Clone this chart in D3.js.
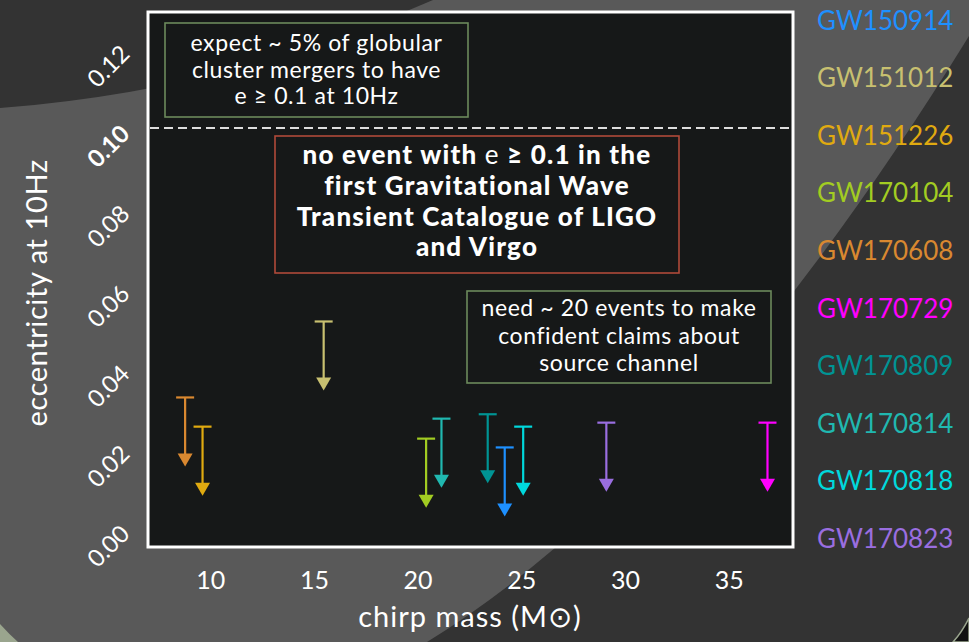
<!DOCTYPE html>
<html>
<head>
<meta charset="utf-8">
<script src="https://cdn.jsdelivr.net/npm/d3@7"></script>
<style>
  html, body { margin: 0; padding: 0; background: #333; }
  svg text { font-family: Lato, "Noto Sans", sans-serif; }
</style>
</head>
<body>
<div id="chart"></div>
<script>
// events (GWTC-1) with chirp mass and 90% upper limit on eccentricity at 10Hz
const events = ["GW150914", "GW151012", "GW151226", "GW170104", "GW170608",
                "GW170729", "GW170809", "GW170814", "GW170818", "GW170823"];
const chirpMass = [24.2, 15.47, 9.63, 20.41, 8.79, 36.87, 23.38, 21.15, 25.09, 29.1];
const eccLimit = [0.0201, 0.0516, 0.0253, 0.0223, 0.0326, 0.0263, 0.0284, 0.0273, 0.0253, 0.0263];
const eventColors = ["#1e90ff", "#c8c070", "#e0aa10", "#a2cc22", "#d98830",
                     "#ff00ff", "#009494", "#20b8b0", "#00d8dc", "#9a6ee0"];

const xTicks = [10, 15, 20, 25, 30, 35];
const yTicks = [0, 0.02, 0.04, 0.06, 0.08, 0.10, 0.12];
const threshold = 0.1;

const W = 969, H = 642;
const svg = d3.select("#chart").append("svg")
    .attr("width", W)
    .attr("height", H);

// ---- slide background ----
svg.append("rect").attr("width", W).attr("height", H).attr("fill", "#333333");

const band = d3.path();
band.moveTo(0, 108);
band.quadraticCurveTo(230, 90, 433, 0);
band.lineTo(W, 0);
band.lineTo(W, 36);
band.quadraticCurveTo(699, 474, 427, H);
band.lineTo(0, H);
band.closePath();
svg.append("path").attr("d", band.toString()).attr("fill", "#595959");

// little corner swooshes
const cornerL = d3.path();
cornerL.moveTo(0, 624);
cornerL.quadraticCurveTo(9, 634, 18, H);
cornerL.lineTo(0, H);
cornerL.closePath();
svg.append("path").attr("d", cornerL.toString()).attr("fill", "#9aa58e");

const cornerR = d3.path();
cornerR.moveTo(W, 618);
cornerR.quadraticCurveTo(962, 632, 953, H);
cornerR.lineTo(W, H);
cornerR.closePath();
svg.append("path").attr("d", cornerR.toString())
    .attr("fill", "#111").attr("stroke", "#9aa58e").attr("stroke-width", 1.5);

// ---- plot area ----
const frame = { left: 148, top: 12, right: 793, bottom: 547 };

const x = d3.scaleLinear().domain([7, 38.1]).range([frame.left, frame.right]);
const y = d3.scaleLinear().domain([-0.0048, 0.129]).range([frame.bottom, frame.top]);

svg.append("rect")
    .attr("x", frame.left).attr("y", frame.top)
    .attr("width", frame.right - frame.left)
    .attr("height", frame.bottom - frame.top)
    .attr("fill", "#161818")
    .attr("stroke", "#ffffff")
    .attr("stroke-width", 3);

// threshold line at e = 0.1
svg.append("line")
    .attr("x1", frame.left + 2).attr("x2", frame.right - 2)
    .attr("y1", y(threshold)).attr("y2", y(threshold))
    .attr("stroke", "#dddddd")
    .attr("stroke-width", 2)
    .attr("stroke-dasharray", "9,5");

// x axis: labels only
const xAxis = d3.axisBottom(x).tickValues(xTicks).tickSize(0).tickPadding(0);
const gx = svg.append("g")
    .attr("transform", `translate(0, ${frame.bottom})`)
    .call(xAxis);
gx.select(".domain").remove();
gx.selectAll("text")
    .attr("y", 42)
    .attr("dy", 0)
    .attr("fill", "#ffffff")
    .style("font-size", "25px");

// y axis: rotated labels, 0.10 in bold
const yAxis = d3.axisLeft(y).tickValues(yTicks).tickSize(0).tickFormat(d3.format(".2f"));
const gy = svg.append("g").call(yAxis);
gy.select(".domain").remove();
gy.selectAll(".tick text")
    .attr("x", null).attr("dy", null)
    .attr("text-anchor", "end")
    .attr("fill", "#ffffff")
    .style("font-size", "24px")
    .style("font-weight", d => d === threshold ? "bold" : "normal")
    .attr("transform", "translate(131, 7) rotate(-45)");

// axis titles
svg.append("text")
    .attr("transform", "translate(47, 293) rotate(-90)")
    .attr("text-anchor", "middle")
    .attr("fill", "#ffffff")
    .style("font-size", "29px")
    .style("letter-spacing", "0.6px")
    .text("eccentricity at 10Hz");

svg.append("text")
    .attr("x", 470).attr("y", 627)
    .attr("text-anchor", "middle")
    .attr("fill", "#ffffff")
    .style("font-size", "29px")
    .style("letter-spacing", "1px")
    .text("chirp mass (M\u2299)");

// ---- upper-limit arrows ----
const arrowLen = 69, headLen = 13, headHalf = 7.5, capHalf = 9;
const rows = events.map((name, i) => ({
    name: name, mass: chirpMass[i], ecc: eccLimit[i], color: eventColors[i]
}));

const arrows = svg.append("g").selectAll("g")
    .data(rows)
    .join("g")
    .attr("transform", d => `translate(${x(d.mass)}, ${y(d.ecc)})`);

arrows.append("line")
    .attr("x1", -capHalf).attr("x2", capHalf)
    .attr("stroke", d => d.color).attr("stroke-width", 2.2);
arrows.append("line")
    .attr("y1", 0).attr("y2", arrowLen - headLen + 1)
    .attr("stroke", d => d.color).attr("stroke-width", 2.2);
arrows.append("path")
    .attr("d", `M${-headHalf},${arrowLen - headLen} L${headHalf},${arrowLen - headLen} L0,${arrowLen} Z`)
    .attr("fill", d => d.color);

// ---- annotation boxes ----
function noteBox(box, lines, opts) {
    svg.append("rect")
        .attr("x", box[0]).attr("y", box[1])
        .attr("width", box[2] - box[0]).attr("height", box[3] - box[1])
        .attr("fill", "#161818")
        .attr("stroke", opts.stroke)
        .attr("stroke-width", 1.6);
    const t = svg.append("text")
        .attr("text-anchor", "middle")
        .attr("fill", "#ffffff")
        .style("font-size", opts.size + "px")
        .style("font-weight", opts.weight)
        .style("letter-spacing", opts.spacing + "px");
    lines.forEach((ln, i) => {
        const ts = t.append("tspan")
            .attr("x", (box[0] + box[2]) / 2)
            .attr("y", opts.first + i * opts.step);
        ln.forEach(part => {
            ts.append("tspan")
                .style("font-weight", part.w || null)
                .text(part.t);
        });
    });
}

noteBox([165, 23, 468, 117],
    [[{ t: "expect ~ 5% of globular" }],
     [{ t: "cluster mergers to have" }],
     [{ t: "e \u2265 0.1 at 10Hz" }]],
    { stroke: "#6c8a5c", size: 23, weight: "normal", spacing: 0.6, first: 51, step: 26.5 });

noteBox([275, 136, 679, 273],
    [[{ t: "no event with " }, { t: "e", w: "normal" }, { t: " \u2265 0.1 in the" }],
     [{ t: "first Gravitational Wave" }],
     [{ t: "Transient Catalogue of LIGO" }],
     [{ t: "and Virgo" }]],
    { stroke: "#b04a3a", size: 26, weight: "900", spacing: 1.2, first: 164, step: 30.8 });

noteBox([467, 291, 771, 383],
    [[{ t: "need ~ 20 events to make" }],
     [{ t: "confident claims about" }],
     [{ t: "source channel" }]],
    { stroke: "#6c8a5c", size: 23, weight: "normal", spacing: 0.6, first: 316, step: 27.5 });

// ---- legend (event names) ----
svg.append("g").selectAll("text")
    .data(rows)
    .join("text")
    .attr("x", 817)
    .attr("y", (d, i) => 29.5 + i * 57.6)
    .attr("fill", d => d.color)
    .style("font-size", "26px")
    .text(d => d.name);
</script>
</body>
</html>
